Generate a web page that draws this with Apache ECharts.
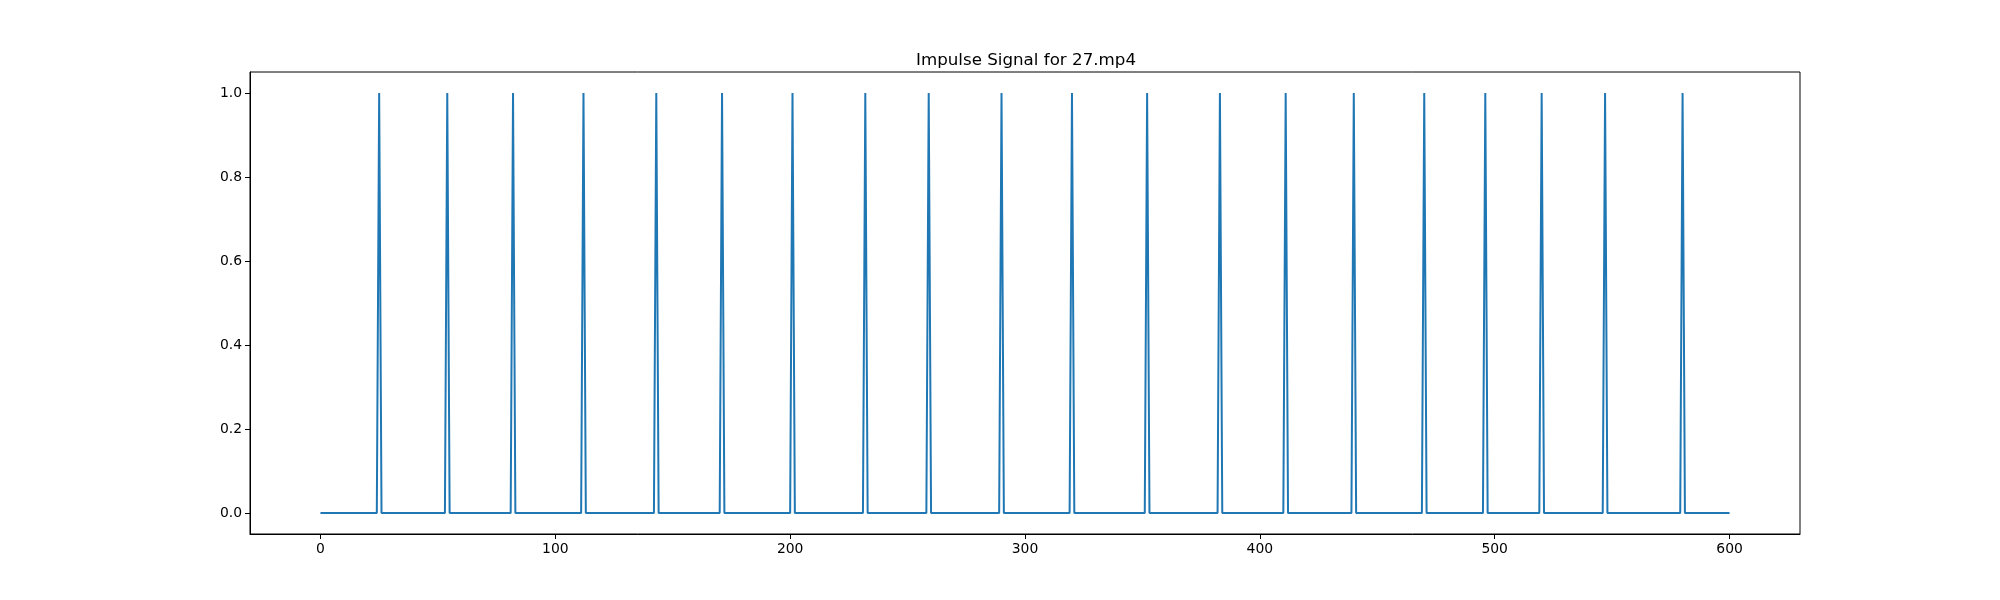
<!DOCTYPE html>
<html>
<head>
<meta charset="utf-8">
<script src="https://cdn.jsdelivr.net/npm/echarts@6/dist/echarts.min.js"></script>
<style>
html,body{margin:0;padding:0;background:#fff;}
#chart{width:2000px;height:600px;}
</style>
</head>
<body>
<div id="chart"></div>
<script>
// Frames (0..600) at which an impulse of value 1 occurs
const spikeFrames = [25, 54, 82, 112, 143, 171, 201, 232, 259, 290, 320, 352, 383, 411, 440, 470, 496, 520, 547, 580];
const frameCount = 601;
const spikeValue = 1;
const xTicks = [0, 100, 200, 300, 400, 500, 600];
const yTicks = [0, 0.2, 0.4, 0.6, 0.8, 1.0];
const titleText = 'Impulse Signal for 27.mp4';

const spikeSet = new Set(spikeFrames);
const seriesData = [];
for (let i = 0; i < frameCount; i++) {
  seriesData.push([i, spikeSet.has(i) ? spikeValue : 0]);
}

const chart = echarts.init(document.getElementById('chart'), null, {renderer: 'canvas'});
const font = 'DejaVu Sans';
chart.setOption({
  animation: false,
  backgroundColor: '#fff',
  title: {
    text: titleText,
    left: 1021,
    textAlign: 'center',
    top: 47,
    textStyle: {fontFamily: font, fontSize: 16.7, fontWeight: 'normal', color: '#000'}
  },
  grid: {
    left: 250, right: 200, top: 72, bottom: 66,
    show: true, borderColor: '#000', borderWidth: 1, backgroundColor: 'transparent'
  },
  xAxis: {
    type: 'value', min: -30, max: 630,
    splitLine: {show: false},
    axisLine: {show: true, onZero: false, lineStyle: {color: '#000', width: 1}},
    axisTick: {show: true, length: 5, lineStyle: {color: '#000'}, customValues: xTicks},
    axisLabel: {show: true, customValues: xTicks, fontFamily: font, fontSize: 13.9, color: '#000', margin: 8}
  },
  yAxis: {
    type: 'value', min: -0.05, max: 1.05,
    splitLine: {show: false},
    axisLine: {show: true, onZero: false, lineStyle: {color: '#000', width: 1}},
    axisTick: {show: true, length: 5, lineStyle: {color: '#000'}, customValues: yTicks},
    axisLabel: {show: true, customValues: yTicks, fontFamily: font, fontSize: 13.9, color: '#000', margin: 8,
      formatter: v => v.toFixed(1)}
  },
  series: [{
    type: 'line',
    data: seriesData,
    showSymbol: false,
    symbol: 'none',
    lineStyle: {color: '#1f77b4', width: 2},
    clip: true
  }]
});
</script>
</body>
</html>
